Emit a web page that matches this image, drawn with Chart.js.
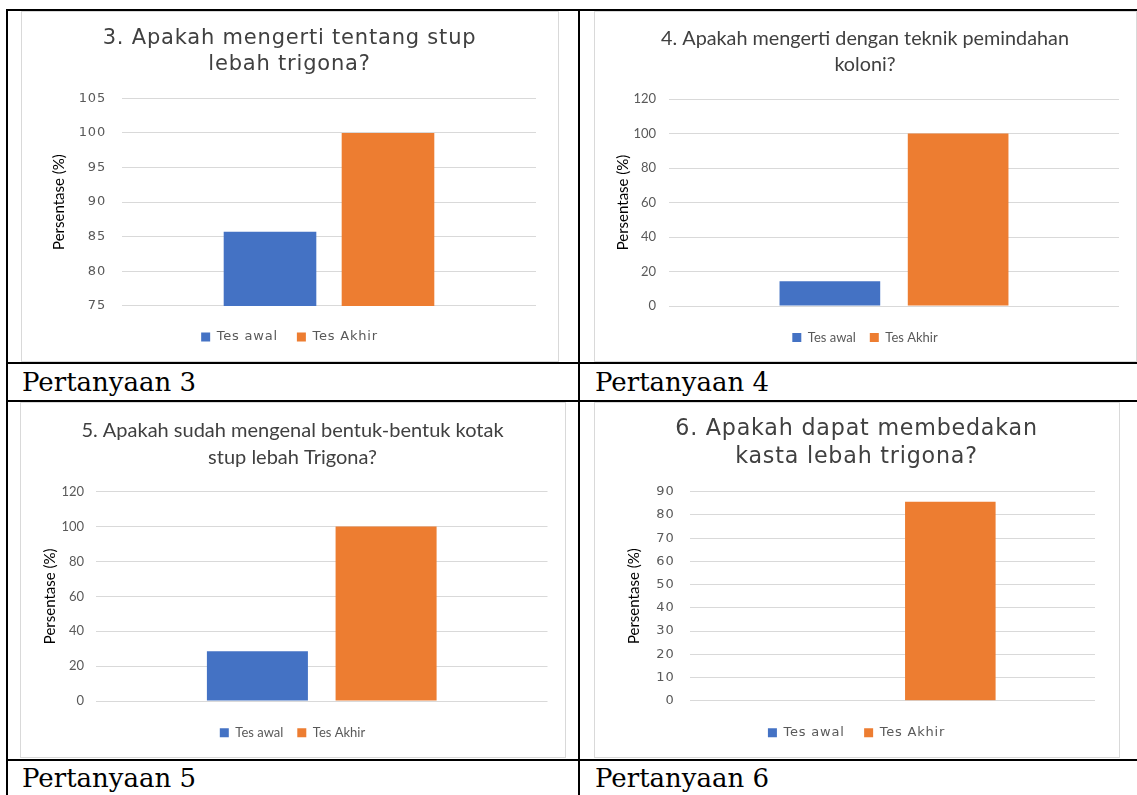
<!DOCTYPE html>
<html>
<head>
<meta charset="utf-8">
<script src="https://cdn.jsdelivr.net/npm/chart.js@4.4.1/dist/chart.umd.min.js"></script>
<style>
  body { margin: 0; background: #fff; width: 1137px; height: 795px; overflow: hidden; position: relative; }
  .rule { position: absolute; background: #000; }
  .cap { position: absolute; font-family: 'DejaVu Serif', serif; font-size: 26px; line-height: 1; color: #000; white-space: nowrap; }
  .frame { position: absolute; border: 1px solid #d9d9d9; box-sizing: border-box; }
  canvas { position: absolute; }
</style>
</head>
<body>
<script>
// values (percent)
const seriesNames = ['Tes awal', 'Tes Akhir'];
const captions = ['Pertanyaan 3', 'Pertanyaan 4', 'Pertanyaan 5', 'Pertanyaan 6'];
const titles = [
  ['3. Apakah mengerti tentang stup', 'lebah trigona?'],
  ['4. Apakah mengerti dengan teknik pemindahan', 'koloni?'],
  ['5. Apakah sudah mengenal bentuk-bentuk kotak', 'stup lebah Trigona?'],
  ['6. Apakah dapat membedakan', 'kasta lebah trigona?']
];
const tesAwal = [85.71, 14.29, 28.57, 0];
const tesAkhir = [100, 100, 100, 85.71];
const yMin = [75, 0, 0, 0];
const yMax = [105, 120, 120, 90];
const yStep = [5, 20, 20, 10];
const yTitle = 'Persentase (%)';

const BLUE = '#4472C4';
const ORANGE = '#ED7D31';
const WIDE = "'DejaVu Sans'";
const NARROW = 'Lato';

// page geometry of each chart (px): box, plot area, text positions
const frames = [
  { box: [21, 11, 558, 361], plot: [122, 98.3, 536, 305.9], title1: 38.6, titleLH: 26, titleFont: WIDE, titleSize: 21,
    spacing: 0.8, tickFont: WIDE, tickSize: 13, tickRight: 106, legendY: 337, legendGap: 19, yTitleX: 59.5 },
  { box: [594, 11, 1136, 361], plot: [669, 99, 1119, 306], title1: 38.5, titleLH: 26.5, titleFont: NARROW, titleSize: 19.8,
    spacing: 0, tickFont: NARROW, tickSize: 13, tickRight: 656, legendY: 337.5, legendGap: 14, yTitleX: 623 },
  { box: [20, 402, 565, 757], plot: [96, 491.7, 547.5, 701], title1: 430.5, titleLH: 27.3, titleFont: NARROW, titleSize: 20,
    spacing: 0, tickFont: NARROW, tickSize: 13, tickRight: 84, legendY: 732.7, legendGap: 14, yTitleX: 50 },
  { box: [594, 402, 1119, 757], plot: [690.3, 491.7, 1095, 700.7], title1: 429.5, titleLH: 27.7, titleFont: WIDE, titleSize: 22.2,
    spacing: 0.8, tickFont: WIDE, tickSize: 13, tickRight: 674.5, legendY: 732.7, legendGap: 19.5, yTitleX: 634 }
];

// table rules: [left, top, width, height]
const rules = [
  [6, 9, 1131, 2], [6, 9, 2, 786], [578, 9, 2, 786],
  [6, 362, 1131, 2], [6, 400, 1131, 2], [6, 759, 1131, 2]
];
const capPos = [[22, 368.7], [595, 368.7], [22, 764.7], [595, 764.7]];

rules.forEach(([l, t, w, h]) => {
  const d = document.createElement('div');
  d.className = 'rule';
  d.style.cssText = `left:${l}px;top:${t}px;width:${w}px;height:${h}px`;
  document.body.appendChild(d);
});
captions.forEach((txt, i) => {
  const d = document.createElement('div');
  d.className = 'cap';
  d.style.left = capPos[i][0] + 'px';
  d.style.top = capPos[i][1] + 'px';
  d.textContent = txt;
  document.body.appendChild(d);
});

// letter spacing for the wide Office-style text; axis title stays plain
const spacingPlugin = {
  id: 'spacing',
  defaults: { px: 0 },
  beforeLayout(chart, args, opts) { chart.ctx.letterSpacing = opts.px + 'px'; },
  afterLayout(chart) {
    const y = chart.scales.y;
    if (y && !y._plainTitle) {
      const orig = y.drawTitle;
      y.drawTitle = function () {
        const ls = this.ctx.letterSpacing;
        this.ctx.letterSpacing = '0px';
        orig.call(this);
        this.ctx.letterSpacing = ls;
      };
      y._plainTitle = true;
    }
  },
  beforeDraw(chart, args, opts) { chart.ctx.letterSpacing = opts.px + 'px'; }
};

function buildChart(i) {
  const f = frames[i];
  const [bx, by, br, bb] = f.box;
  const [pl, pt, pr, pb] = f.plot;
  const w = br - bx, h = bb - by;

  const frame = document.createElement('div');
  frame.className = 'frame';
  frame.style.cssText = `left:${bx}px;top:${by}px;width:${w + 1}px;height:${h + 1}px`;
  document.body.appendChild(frame);

  const canvas = document.createElement('canvas');
  canvas.width = w;
  canvas.height = h;
  canvas.style.left = bx + 'px';
  canvas.style.top = by + 'px';
  document.body.appendChild(canvas);

  const legendSize = f.tickSize;
  const padTop = f.title1 - by - f.titleLH / 2;
  const titleGap = pt - (by + padTop + 2 * f.titleLH);
  const padBottom = bb - f.legendY - 10 - legendSize / 2;
  const legendTop = bb - padBottom - legendSize - f.legendGap - 10;
  const xHeight = Math.max(0, legendTop - pb);
  const yTitleSize = 15;
  const yTitleLH = yTitleSize * 1.2;

  new Chart(canvas, {
    type: 'bar',
    data: {
      labels: [''],
      datasets: [
        { label: seriesNames[0], data: [tesAwal[i]], backgroundColor: BLUE },
        { label: seriesNames[1], data: [tesAkhir[i]], backgroundColor: ORANGE }
      ]
    },
    options: {
      responsive: false,
      animation: false,
      events: [],
      layout: { padding: { top: padTop, right: 0, bottom: padBottom, left: 0 } },
      datasets: { bar: { categoryPercentage: 0.57, barPercentage: 0.785 } },
      plugins: {
        title: {
          display: true,
          text: titles[i],
          color: '#404040',
          font: { family: f.titleFont, size: f.titleSize, weight: 'normal', lineHeight: f.titleLH / f.titleSize },
          padding: { top: 0, bottom: titleGap }
        },
        legend: {
          position: 'bottom',
          labels: {
            boxWidth: 9,
            boxHeight: 9,
            padding: f.legendGap,
            color: '#595959',
            font: { family: f.tickFont, size: legendSize }
          }
        },
        tooltip: { enabled: false },
        spacing: { px: f.spacing }
      },
      scales: {
        x: {
          grid: { display: false },
          border: { display: false },
          ticks: { display: false },
          afterFit(s) { s.height = xHeight; }
        },
        y: {
          min: yMin[i],
          max: yMax[i],
          ticks: {
            stepSize: yStep[i],
            padding: pl - f.tickRight,
            color: '#595959',
            font: { family: f.tickFont, size: f.tickSize }
          },
          grid: { color: '#d9d9d9', lineWidth: 1, drawTicks: false },
          border: { display: false },
          title: {
            display: true,
            text: yTitle,
            color: '#000',
            font: { family: NARROW, size: yTitleSize },
            padding: { top: f.yTitleX - bx - yTitleLH / 2, bottom: 0 }
          },
          afterFit(s) { s.width = pl - bx; }
        },
        yRight: {
          position: 'right',
          grid: { display: false },
          border: { display: false },
          ticks: { display: false },
          afterFit(s) { s.width = br - pr; }
        }
      }
    },
    plugins: [spacingPlugin]
  });
}

frames.forEach((f, i) => buildChart(i));
</script>
</body>
</html>
